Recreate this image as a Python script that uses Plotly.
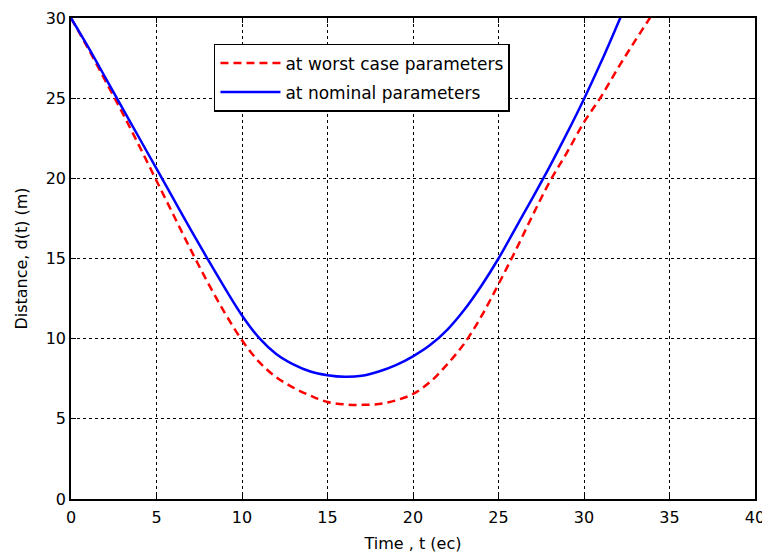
import plotly.graph_objects as go

t_nom = [0, 1, 2, 3, 4, 5, 6, 7, 8, 9, 10, 11, 12, 13, 14, 15, 16, 17, 18, 19, 20,
         21, 22, 23, 24, 25, 26, 27, 28, 29, 30, 31, 32, 33]
d_nom = [30, 28.2, 26.3, 24.4, 22.5, 20.6, 18.7, 16.8, 14.95, 13.15, 11.45, 10.05, 9.05,
         8.4, 7.95, 7.72, 7.62, 7.68, 7.95, 8.35, 8.9, 9.6, 10.55, 11.8, 13.3, 15.0,
         16.9, 18.8, 20.75, 22.8, 24.95, 27.25, 29.7, 32.2]

t_wc = [0, 1, 2, 3, 4, 5, 6, 7, 8, 9, 10, 11, 12, 13, 14, 15, 16, 17, 18, 19, 20,
        21, 22, 23, 24, 25, 26, 27, 28, 29, 30, 31, 32, 33, 34, 35]
d_wc = [30, 28.1, 26.1, 24.1, 22.0, 19.85, 17.7, 15.55, 13.5, 11.6, 9.9, 8.55, 7.6,
        6.95, 6.45, 6.05, 5.9, 5.87, 5.92, 6.15, 6.55, 7.3, 8.4, 9.7, 11.4, 13.4,
        15.5, 17.7, 19.8, 21.6, 23.5, 25.1, 26.9, 28.6, 30.25, 32.0]

x_ticks = [0, 5, 10, 15, 20, 25, 30, 35, 40]
y_ticks = [0, 5, 10, 15, 20, 25, 30]

FONT = "DejaVu Sans, Liberation Sans, Arial, sans-serif"

fig = go.Figure()
fig.add_trace(go.Scatter(x=t_wc, y=d_wc, mode="lines", name="at worst case parameters",
                         legendgroup="wc",
                         line=dict(color="#ff0000", width=2.5, dash="8px,5px", shape="spline")))
fig.add_trace(go.Scatter(x=t_nom, y=d_nom, mode="lines", name="at nominal parameters",
                         legendgroup="nom",
                         line=dict(color="#0000ff", width=2.5, shape="spline")))

axis_common = dict(
    showline=True, linecolor="black", linewidth=1.5, mirror="ticks",
    ticks="inside", ticklen=5, tickcolor="black", tickwidth=1,
    showgrid=True, gridcolor="black", gridwidth=1, griddash="dot",
    zeroline=False, automargin=False, ticklabeloverflow="allow",
    tickfont=dict(family=FONT, size=16, color="black"),
)

fig.update_xaxes(range=[0, 40], tickvals=x_ticks, ticktext=[str(v) for v in x_ticks],
                 ticklabelstandoff=3,
                 title=dict(text="Time , t (ec)", font=dict(family=FONT, size=16, color="black"),
                            standoff=12),
                 **axis_common)
fig.update_yaxes(range=[0, 30], tickvals=y_ticks, ticktext=[str(v) for v in y_ticks],
                 title=dict(text="Distance, d(t) (m)", font=dict(family=FONT, size=16, color="black"),
                            standoff=14),
                 **axis_common)

# page body has an 8px default margin, so the figure is sized to fit the window
fig.update_layout(
    width=762, height=547,
    margin=dict(l=63, r=15, t=10, b=56),
    plot_bgcolor="white", paper_bgcolor="white",
    font=dict(family=FONT, size=16, color="black"),
    showlegend=True,
    legend=dict(x=0.209, y=0.946, xanchor="left", yanchor="top",
                bgcolor="white", bordercolor="black", borderwidth=1.5,
                font=dict(family=FONT, size=17, color="black"),
                itemwidth=60, tracegroupgap=4),
)

fig.write_html("out.html")
